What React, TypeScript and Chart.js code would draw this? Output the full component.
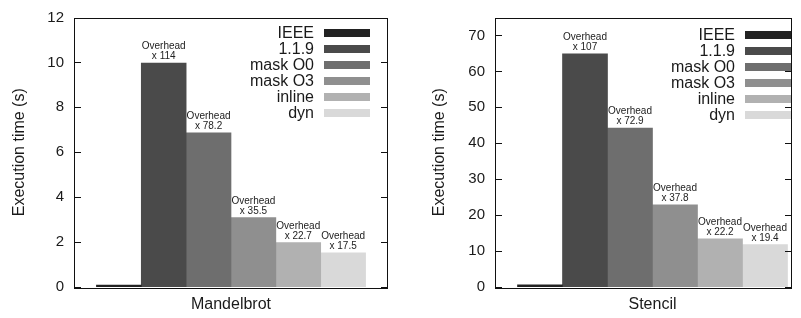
import React, { useEffect, useRef } from 'react';
import { Chart, registerables } from 'chart.js';

Chart.register(...registerables);

const FONT = '"Liberation Sans", Arial, Helvetica, sans-serif';

// Series (legend) names and their fill colours
const SERIES = ['IEEE', '1.1.9', 'mask O0', 'mask O3', 'inline', 'dyn'];
const SERIES_COLORS = ['#222222', '#4a4a4a', '#6e6e6e', '#8f8f8f', '#b1b1b1', '#d9d9d9'];

// Mandelbrot panel
const MANDEL_NAME = 'Mandelbrot';
const MANDEL_TIMES = [0.088, 9.97, 6.86, 3.09, 1.98, 1.52];
const MANDEL_OVERHEAD = [null, 114, 78.2, 35.5, 22.7, 17.5];
const MANDEL_YTICKS = [0, 2, 4, 6, 8, 10, 12];
const MANDEL_YMAX = 12;

// Stencil panel
const STENCIL_NAME = 'Stencil';
const STENCIL_TIMES = [0.61, 64.9, 44.2, 22.9, 13.4, 11.8];
const STENCIL_OVERHEAD = [null, 107, 72.9, 37.8, 22.2, 19.4];
const STENCIL_YTICKS = [0, 10, 20, 30, 40, 50, 60, 70];
const STENCIL_YMAX = 75;

const Y_TITLE = 'Execution time (s)';
const OVERHEAD_WORD = 'Overhead';

type PanelProps = {
  name: string;
  times: number[];
  overhead: (number | null)[];
  yTicks: number[];
  yMax: number;
  width: number;
  height: number;
  padTop: number;
  padRight: number;
  yAxisWidth: number;
  titlePad: number;
  xMin: number;
  xMax: number;
  legendSwatchRight: number;
  legendFirst: number;
};

function Panel(p: PanelProps) {
  const ref = useRef<HTMLCanvasElement | null>(null);

  useEffect(() => {
    const canvas = ref.current;
    if (!canvas) return;

    const framePlugin = {
      id: 'frame',
      afterDatasetsDraw(chart: any) {
        const { ctx, chartArea } = chart;
        const { left, right, top, bottom } = chartArea;
        const ys = chart.scales.y;
        ctx.save();
        ctx.strokeStyle = '#111';
        ctx.lineWidth = 1;
        ctx.beginPath();
        for (const v of p.yTicks) {
          const y = Math.round(ys.getPixelForValue(v)) + 0.5;
          ctx.moveTo(left, y);
          ctx.lineTo(left + 7, y);
          ctx.moveTo(right - 7, y);
          ctx.lineTo(right, y);
        }
        ctx.stroke();
        ctx.strokeRect(Math.round(left) + 0.5, Math.round(top) + 0.5, Math.round(right - left) - 1, Math.round(bottom - top));
        ctx.restore();
      },
    };

    const overheadPlugin = {
      id: 'overhead',
      afterDatasetsDraw(chart: any) {
        const { ctx } = chart;
        ctx.save();
        ctx.font = `10px ${FONT}`;
        ctx.fillStyle = '#222';
        ctx.textAlign = 'center';
        ctx.textBaseline = 'alphabetic';
        p.overhead.forEach((ov, i) => {
          if (ov === null) return;
          const el = chart.getDatasetMeta(i).data[0];
          if (!el) return;
          ctx.fillText(OVERHEAD_WORD, el.x, el.y - 14);
          ctx.fillText('x ' + String(ov), el.x, el.y - 4);
        });
        ctx.restore();
      },
    };

    const legendPlugin = {
      id: 'customLegend',
      afterDraw(chart: any) {
        const { ctx, chartArea } = chart;
        const swRight = chartArea.right - p.legendSwatchRight;
        const swW = 46;
        const swH = 8;
        const gap = 10;
        ctx.save();
        ctx.font = `16px ${FONT}`;
        ctx.textAlign = 'right';
        ctx.textBaseline = 'middle';
        chart.data.datasets.forEach((ds: any, i: number) => {
          const cy = chartArea.top + p.legendFirst + i * 16;
          ctx.fillStyle = ds.backgroundColor;
          ctx.fillRect(swRight - swW, Math.round(cy - swH / 2), swW, swH);
          ctx.fillStyle = '#1a1a1a';
          ctx.fillText(ds.label, swRight - swW - gap, cy + 1);
        });
        ctx.restore();
      },
    };

    const chart = new Chart(canvas, {
      type: 'bar',
      data: {
        datasets: SERIES.map((s, i) => ({
          label: s,
          data: [{ x: i, y: p.times[i] }],
          backgroundColor: SERIES_COLORS[i],
          borderWidth: 0,
          grouped: false,
          barPercentage: 1,
          categoryPercentage: 1,
        })),
      } as any,
      options: {
        responsive: false,
        animation: false,
        devicePixelRatio: 1,
        layout: { padding: { left: 0, right: p.padRight, top: p.padTop, bottom: 0 } },
        plugins: { legend: { display: false }, tooltip: { enabled: false } },
        scales: {
          x: {
            type: 'linear',
            min: p.xMin,
            max: p.xMax,
            offset: false,
            grid: { display: false, drawTicks: false },
            border: { display: false },
            afterBuildTicks: (s: any) => {
              s.ticks = [{ value: (SERIES.length - 1) / 2 }];
            },
            afterFit: (s: any) => {
              s.height = 31;
            },
            ticks: {
              callback: () => p.name,
              font: { family: FONT, size: 16 },
              color: '#1a1a1a',
              padding: 8,
              autoSkip: false,
              maxRotation: 0,
            },
          },
          y: {
            type: 'linear',
            min: 0,
            max: p.yMax,
            offset: false,
            grid: { display: false, drawTicks: false },
            border: { display: false },
            afterBuildTicks: (s: any) => {
              s.ticks = p.yTicks.map((v) => ({ value: v }));
            },
            afterFit: (s: any) => {
              s.width = p.yAxisWidth;
            },
            ticks: {
              font: { family: FONT, size: 15, lineHeight: 1 },
              color: '#1a1a1a',
              padding: 10,
            },
            title: {
              display: true,
              text: Y_TITLE,
              font: { family: FONT, size: 16 },
              color: '#1a1a1a',
              padding: { top: p.titlePad, bottom: 0 },
            },
          },
        },
      } as any,
      plugins: [framePlugin, overheadPlugin, legendPlugin],
    });

    return () => chart.destroy();
  }, []);

  return (
    <canvas
      ref={ref}
      width={p.width}
      height={p.height}
      style={{ display: 'block', width: p.width, height: p.height }}
    />
  );
}

export default function App() {
  return (
    <div
      style={{
        position: 'fixed',
        left: 0,
        top: 0,
        width: 801,
        height: 318,
        display: 'flex',
        background: '#ffffff',
      }}
    >
      <Panel
        name={MANDEL_NAME}
        times={MANDEL_TIMES}
        overhead={MANDEL_OVERHEAD}
        yTicks={MANDEL_YTICKS}
        yMax={MANDEL_YMAX}
        width={400}
        height={318}
        padTop={10}
        padRight={12}
        yAxisWidth={74}
        titlePad={10}
        xMin={-1}
        xMax={6}
        legendSwatchRight={18}
        legendFirst={15.5}
      />
      <Panel
        name={STENCIL_NAME}
        times={STENCIL_TIMES}
        overhead={STENCIL_OVERHEAD}
        yTicks={STENCIL_YTICKS}
        yMax={STENCIL_YMAX}
        width={401}
        height={318}
        padTop={9}
        padRight={9}
        yAxisWidth={95}
        titlePad={29.5}
        xMin={-1}
        xMax={5.6}
        legendSwatchRight={1}
        legendFirst={17}
      />
    </div>
  );
}
